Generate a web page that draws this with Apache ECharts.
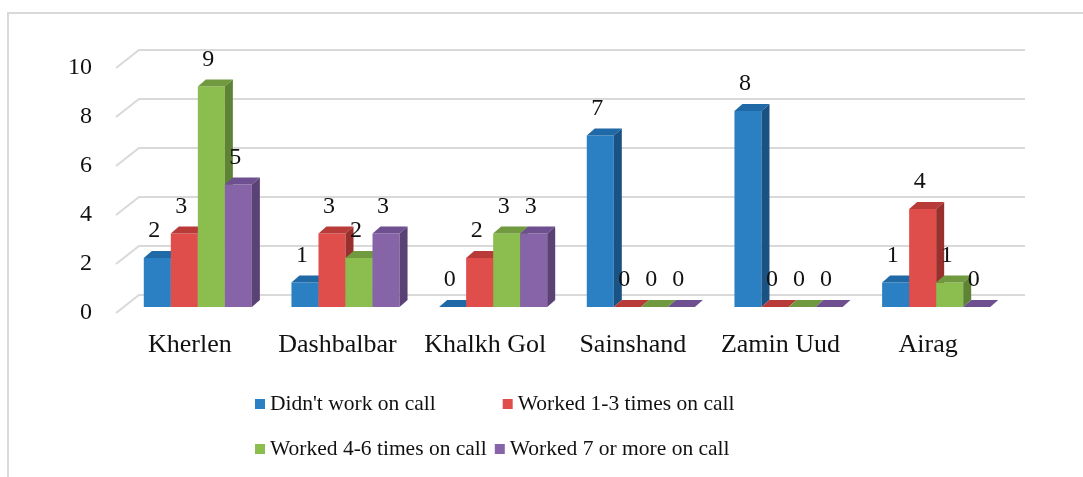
<!DOCTYPE html>
<html>
<head>
<meta charset="utf-8">
<script src="https://cdn.jsdelivr.net/npm/echarts@6/dist/echarts.min.js"></script>
<style>
  html, body { margin: 0; padding: 0; background: #fff; }
  #chart { width: 1083px; height: 477px; }
</style>
</head>
<body>
<div id="chart"></div>
<script>
CATEGORIES = ['Kherlen', 'Dashbalbar', 'Khalkh Gol', 'Sainshand', 'Zamin Uud', 'Airag'];
SERIES_NAMES = ["Didn't work on call", 'Worked 1-3 times on call', 'Worked 4-6 times on call', 'Worked 7 or more on call'];
DIDNT_WORK = [2, 1, 0, 7, 8, 1];
WORKED_1_3 = [3, 3, 2, 0, 0, 4];
WORKED_4_6 = [9, 2, 3, 0, 0, 1];
WORKED_7_MORE = [5, 3, 3, 0, 0, 0];
Y_TICKS = [0, 2, 4, 6, 8, 10];

var FONT = "'Liberation Serif', 'Times New Roman', serif";
var TEXT_COLOR = '#111';
// front, top, side shades
var COLORS = [
	['#2A80C3', '#1F69A6', '#1A5283'],
	['#E04E4B', '#B83B39', '#9A302E'],
	['#8CBD4F', '#71993F', '#5E8335'],
	['#8763A8', '#6E5090', '#5A4275']
];

// depth of the floor / wall and of the bars
var WALL_DX = 23, WALL_DY = 18;
var BAR_SHIFT_X = 8, BAR_SHIFT_Y = -6;
var BAR_DX = 8, BAR_DY = 7;

function wallItem(params, api) {
	var p = api.coord([0, api.value(1)]);
	var cs = params.coordSys;
	return {
		type: 'polyline',
		shape: { points: [[cs.x, p[1]], [cs.x + WALL_DX, p[1] - WALL_DY], [cs.x + WALL_DX + cs.width, p[1] - WALL_DY]] },
		style: { stroke: '#d9d9d9', lineWidth: 2, fill: null }
	};
}

function barItem(k) {
	return function(params, api) {
		var ci = api.value(0), v = api.value(1);
		var base = api.coord([ci, 0]);
		var top = api.coord([ci, v]);
		var bw = api.size([1, 0])[0] * 0.183;
		var x0 = base[0] + BAR_SHIFT_X + (k - 2) * bw;
		var yb = base[1] + BAR_SHIFT_Y;
		var yt = top[1] + BAR_SHIFT_Y;
		var c = COLORS[k];
		return {
			type: 'group',
			children: [
				{ type: 'rect', shape: { x: x0, y: yt, width: bw, height: yb - yt }, style: { fill: c[0] } },
				{ type: 'polygon', shape: { points: [[x0, yt], [x0 + bw, yt], [x0 + bw + BAR_DX, yt - BAR_DY], [x0 + BAR_DX, yt - BAR_DY]] }, style: { fill: c[1] } },
				{ type: 'polygon', shape: { points: [[x0 + bw, yt], [x0 + bw + BAR_DX, yt - BAR_DY], [x0 + bw + BAR_DX, yb - BAR_DY], [x0 + bw, yb]] }, style: { fill: c[2] } },
				{ type: 'text', x: x0 + bw / 2 - 3, y: yt - 27, style: { text: String(v), fill: TEXT_COLOR, font: '24px ' + FONT, textAlign: 'center', textVerticalAlign: 'middle' } }
			]
		};
	};
}

function pairs(arr) {
	return arr.map(function(v, i) { return [i, v]; });
}

var values = [DIDNT_WORK, WORKED_1_3, WORKED_4_6, WORKED_7_MORE];
var series = [{
	type: 'custom',
	name: 'wall',
	renderItem: wallItem,
	data: Y_TICKS.map(function(t) { return [0, t]; }),
	encode: { x: 0, y: 1 },
	silent: true,
	z: 1
}];
values.forEach(function(arr, k) {
	series.push({
		type: 'custom',
		name: SERIES_NAMES[k],
		itemStyle: { color: COLORS[k][0] },
		renderItem: barItem(k),
		data: pairs(arr),
		encode: { x: 0, y: 1 },
		z: 2
	});
});

var legendBase = {
	left: 250,
	icon: 'rect',
	itemWidth: 10,
	itemHeight: 10,
	textStyle: { fontSize: 21.5, fontFamily: FONT, color: TEXT_COLOR },
	selectedMode: false
};

var chart = echarts.init(document.getElementById('chart'));
chart.setOption({
	animation: false,
	backgroundColor: '#fff',
	graphic: [{
		type: 'rect',
		shape: { x: 8, y: 13, width: 1200, height: 600 },
		style: { fill: null, stroke: '#d9d9d9', lineWidth: 2 }
	}],
	grid: { left: 116, top: 68, width: 886, height: 245 },
	xAxis: {
		type: 'category',
		data: CATEGORIES,
		axisLine: { show: false },
		axisTick: { show: false },
		axisLabel: { interval: 0, hideOverlap: false, fontSize: 26, fontFamily: FONT, color: TEXT_COLOR, margin: 19 }
	},
	yAxis: {
		type: 'value',
		min: 0,
		max: 10,
		interval: 2,
		axisLine: { show: false },
		axisTick: { show: false },
		splitLine: { show: false },
		axisLabel: { fontSize: 24, fontFamily: FONT, color: TEXT_COLOR, margin: 24 }
	},
	legend: [
		Object.assign({}, legendBase, { top: 388, itemGap: 67, data: SERIES_NAMES.slice(0, 2) }),
		Object.assign({}, legendBase, { top: 433, itemGap: 8, data: SERIES_NAMES.slice(2, 4) })
	],
	series: series
});
</script>
</body>
</html>
